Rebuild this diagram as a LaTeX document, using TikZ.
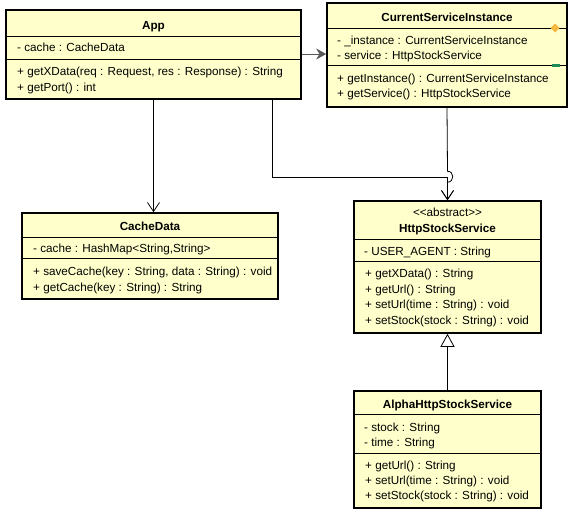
\documentclass[tikz,border=0pt]{standalone}
\usepackage{fontspec}
\setmainfont{Liberation Sans}
\usetikzlibrary{arrows.meta}
\definecolor{classfill}{HTML}{FFFFCC}
\definecolor{markorange}{HTML}{F5B942}
\definecolor{markgreen}{HTML}{1E8C5A}

\begin{document}
\begin{tikzpicture}[x=1pt,y=-1pt,
	classbox/.style={draw, line width=1.6pt, fill=classfill, inner sep=0pt},
	sep/.style={line width=0.8pt},
	member/.style={anchor=base west, inner sep=0pt, font=\fontsize{11.7}{14}\selectfont},
	title/.style={anchor=base, inner sep=0pt, font=\fontsize{11.7}{14}\selectfont\bfseries},
	assoc/.style={line width=0.8pt, -{Straight Barb[length=9pt,width=12pt]}},
	navarrow/.style={draw=black!65, line width=1pt, -{Stealth[length=10pt,width=11pt]}},
	gen/.style={line width=0.8pt, -{Triangle[open,length=13pt,width=14pt,fill=white]}}]
	\useasboundingbox (0,0) rectangle (577,515);

	% class boxes
	\node[classbox, minimum width=295pt, minimum height=89pt] (app) at (153.5,54.5) {};
	\node[classbox, minimum width=240pt, minimum height=104pt] (csi) at (447,55) {};
	\node[classbox, minimum width=256pt, minimum height=86pt] (cache) at (150,256) {};
	\node[classbox, minimum width=187pt, minimum height=132pt] (hss) at (447.5,267) {};
	\node[classbox, minimum width=187pt, minimum height=117pt] (alpha) at (447.5,449.5) {};

	\foreach \n/\y in {app/36, app/59, csi/28, csi/65, cache/237, cache/258, hss/239, hss/261, alpha/414, alpha/453} {
		\draw[sep] (\n.west |- 0,\y) -- (\n.east |- 0,\y);
	}

	% App
	\node[title] (app-name) at (153.5,29) {App};
	\node[member] (app-a1) at (17,51) {- cache : CacheData};
	\node[member] (app-m1) at (17,75) {+ getXData(req : Request, res : Response) : String};
	\node[member] (app-m2) at (17,91) {+ getPort() : int};

	% CurrentServiceInstance
	\node[title] (csi-name) at (447,21) {CurrentServiceInstance};
	\node[member] (csi-a1) at (337,44) {- \_instance : CurrentServiceInstance};
	\node[member] (csi-a2) at (337,59) {- service : HttpStockService};
	\node[member] (csi-m1) at (337,82) {+ getInstance() : CurrentServiceInstance};
	\node[member] (csi-m2) at (337,97) {+ getService() : HttpStockService};
	\fill[markorange] (555,23.5) -- (559.5,28) -- (555,32.5) -- (550.5,28) -- cycle;
	\fill[markgreen] (551.5,63.5) rectangle (559.5,66.5);

	% CacheData
	\node[title] (cache-name) at (150,230) {CacheData};
	\node[member] (cache-a1) at (33,252) {- cache : HashMap{<}String,String{>}};
	\node[member] (cache-m1) at (33,275) {+ saveCache(key : String, data : String) : void};
	\node[member] (cache-m2) at (33,291) {+ getCache(key : String) : String};

	% HttpStockService
	\node[member, anchor=base] (hss-stereo) at (447.5,216) {{<}{<}abstract{>}{>}};
	\node[title] (hss-name) at (447.5,232) {HttpStockService};
	\node[member] (hss-a1) at (364,255) {- USER\_AGENT : String};
	\node[member] (hss-m1) at (365,277) {+ getXData() : String};
	\node[member] (hss-m2) at (365,293) {+ getUrl() : String};
	\node[member] (hss-m3) at (365,308) {+ setUrl(time : String) : void};
	\node[member] (hss-m4) at (365,324) {+ setStock(stock : String) : void};

	% AlphaHttpStockService
	\node[title] (alpha-name) at (447.5,408) {AlphaHttpStockService};
	\node[member] (alpha-a1) at (364,431) {- stock : String};
	\node[member] (alpha-a2) at (364,446) {- time : String};
	\node[member] (alpha-m1) at (365,469) {+ getUrl() : String};
	\node[member] (alpha-m2) at (365,484) {+ setUrl(time : String) : void};
	\node[member] (alpha-m3) at (365,499) {+ setStock(stock : String) : void};

	% connectors
	\draw[navarrow] (app.east |- 0,54) -- (csi.west |- 0,54);
	\draw[assoc] (app.south) -- (app.south |- cache.north);
	\draw[assoc] ([xshift=118.5pt]app.south) |- ([yshift=23pt]hss.north) -- (hss.north);
	\draw[assoc] (csi.south) -- ([yshift=29pt]hss.north) .. controls +(7pt,0) and +(7pt,0) .. ([yshift=18pt]hss.north) -- (hss.north);
	\draw[gen] (alpha.north) -- (hss.south);
\end{tikzpicture}
\end{document}
